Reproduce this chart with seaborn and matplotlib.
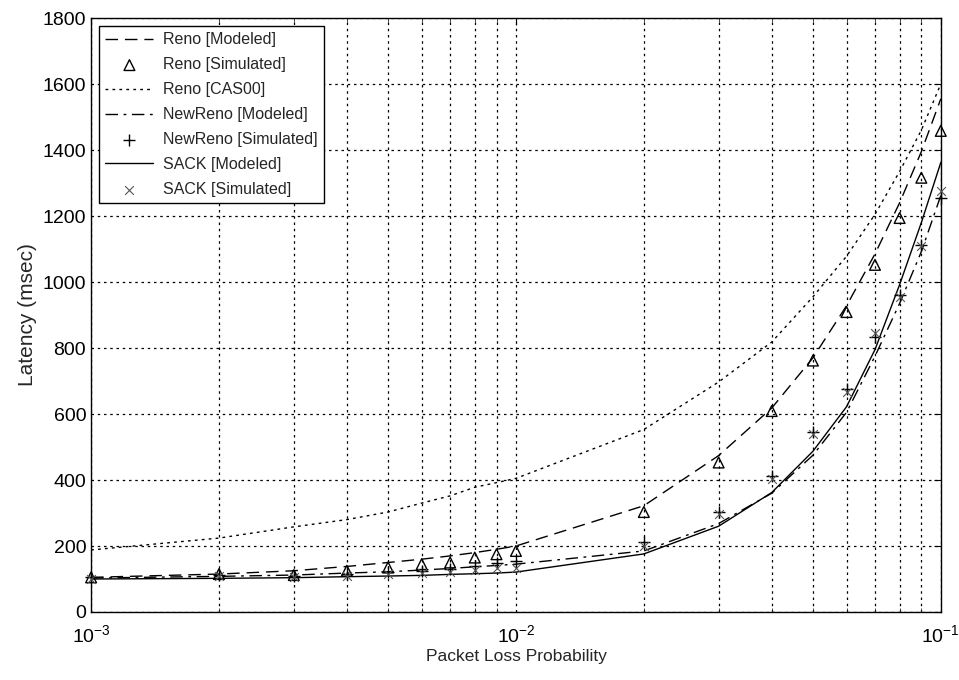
import numpy as np
import pandas as pd
import seaborn as sns
import matplotlib.pyplot as plt
from matplotlib.ticker import LogLocator, MultipleLocator

loss = [0.001, 0.002, 0.003, 0.004, 0.005, 0.006, 0.007, 0.008, 0.009, 0.01,
        0.02, 0.03, 0.04, 0.05, 0.06, 0.07, 0.08, 0.09, 0.1]

reno_model = [105, 115, 125, 138, 150, 160, 170, 180, 190, 200,
              322, 474, 618, 770, 928, 1085, 1240, 1395, 1555]
reno_sim = [105, 115, 112, 125, 135, 145, 150, 165, 175, 185,
            303, 453, 609, 762, 909, 1052, 1194, 1316, 1458]
reno_cas00 = [188, 224, 258, 280, 303, 330, 352, 378, 392, 405,
              553, 697, 818, 955, 1078, 1205, 1335, 1460, 1600]
newreno_model = [103, 108, 112, 118, 122, 127, 132, 137, 141, 145,
                 185, 268, 360, 475, 605, 775, 935, 1092, 1262]
newreno_sim = [105, 112, 110, 115, 120, 125, 130, 140, 150, 155,
               212, 302, 412, 545, 677, 832, 960, 1112, 1255]
sack_model = [100, 102, 104, 107, 109, 111, 114, 116, 118, 121,
              176, 260, 362, 487, 622, 795, 992, 1180, 1362]
sack_sim = [100, 108, 106, 110, 115, 118, 122, 127, 133, 133,
            200, 298, 402, 540, 668, 845, 955, 1108, 1275]

sns.set_style("white")
plt.rcParams['font.family'] = ['Liberation Sans', 'DejaVu Sans']

fig = plt.figure(figsize=(9.59, 6.8), dpi=100)
ax = fig.add_axes([0.095, 0.1, 0.886, 0.8735])

sns.lineplot(x=loss, y=reno_model, ax=ax, color='k', lw=1.0,
             linestyle=(0, (9, 5)), label='Reno [Modeled]')
sns.scatterplot(x=loss, y=reno_sim, ax=ax, marker='^', s=60,
                facecolor='none', edgecolor='k', linewidth=1.0,
                clip_on=False, zorder=3, label='Reno [Simulated]')
sns.lineplot(x=loss, y=reno_cas00, ax=ax, color='k', lw=1.0,
             linestyle=(0, (2, 3)), label='Reno [CAS00]')
sns.lineplot(x=loss, y=newreno_model, ax=ax, color='k', lw=1.0,
             linestyle=(0, (9, 4, 2, 4)), label='NewReno [Modeled]')
sns.scatterplot(x=loss, y=newreno_sim, ax=ax, marker='+', s=70,
                color='k', linewidth=1.0, clip_on=False, zorder=3,
                label='NewReno [Simulated]')
sns.lineplot(x=loss, y=sack_model, ax=ax, color='k', lw=1.0,
             linestyle='-', label='SACK [Modeled]')
sns.scatterplot(x=loss, y=sack_sim, ax=ax, marker='x', s=40,
                color='#555555', linewidth=0.8, clip_on=False, zorder=3,
                label='SACK [Simulated]')

ax.set_xscale('log')
ax.set_xlim(1e-3, 1e-1)
ax.set_ylim(0, 1800)
ax.yaxis.set_major_locator(MultipleLocator(200))
ax.xaxis.set_major_locator(LogLocator(base=10, numticks=10))
ax.xaxis.set_minor_locator(LogLocator(base=10, subs=np.arange(2, 10), numticks=20))

ax.grid(True, which='both', axis='x', color='k', linestyle=(0, (2, 3)), lw=0.9)
ax.grid(True, which='major', axis='y', color='k', linestyle=(0, (2, 3)), lw=0.9)

ax.tick_params(axis='both', which='major', direction='in', length=5,
               labelsize=14, colors='k', top=True, right=True)
ax.tick_params(axis='x', which='major', pad=9)
ax.tick_params(axis='x', which='minor', direction='in', length=3,
               top=True, bottom=True)
for s in ax.spines.values():
    s.set_color('k')
    s.set_linewidth(1.0)

ax.set_xlabel('Packet Loss Probability', fontsize=12.5, labelpad=2)
ax.set_ylabel('Latency (msec)', fontsize=15, labelpad=4)

leg = ax.legend(loc='upper left', fontsize=11.5, frameon=True, fancybox=False,
                edgecolor='k', framealpha=1, handlelength=3.0,
                handletextpad=0.6, borderaxespad=0.5, labelspacing=0.62,
                borderpad=0.4)
leg.get_frame().set_linewidth(1.0)

fig.savefig('out.png', dpi=100)
